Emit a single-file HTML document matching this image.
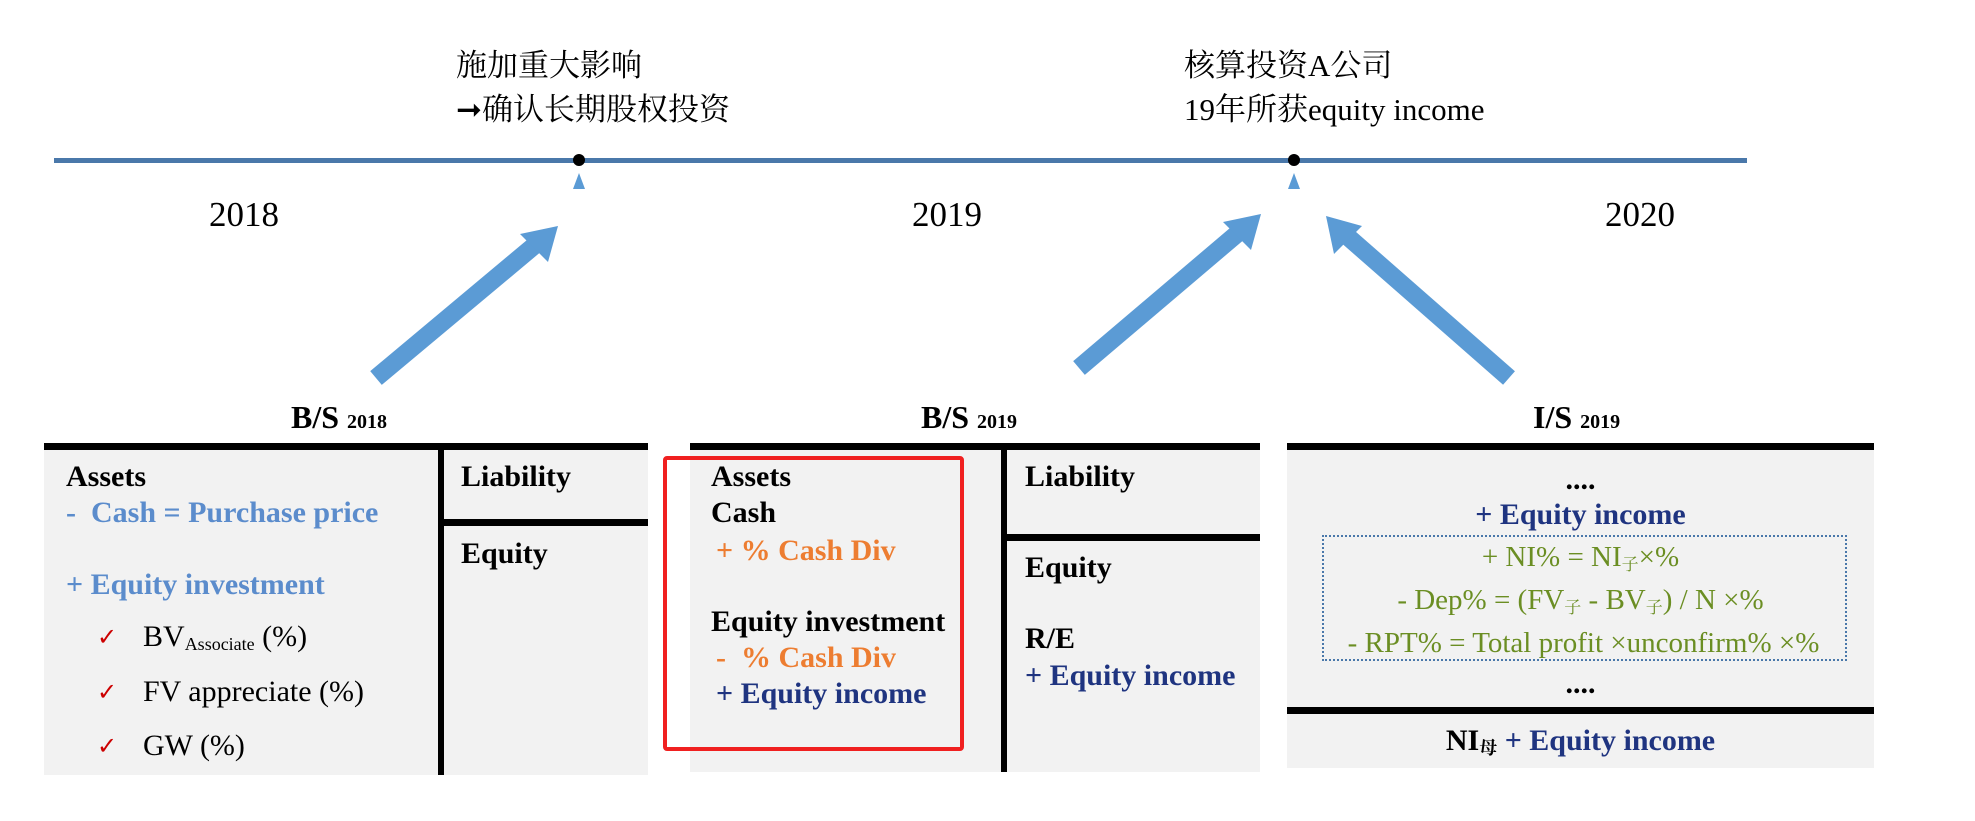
<!DOCTYPE html>
<html><head><meta charset="utf-8"><style>
body{margin:0;width:1975px;height:821px;background:#fff;position:relative;overflow:hidden;font-family:"Liberation Serif","Noto Serif CJK SC",serif}
.a{position:absolute;white-space:nowrap;line-height:34px}
.b{font-weight:bold}
.bg{position:absolute;background:#f2f2f2}
.k{position:absolute;background:#000}
.lb{color:#5b8ccc}.nv{color:#1f3480}.or{color:#ed7d31}.gr{color:#6b8e23}
.zh{font-family:"Liberation Serif","Noto Serif CJK SC",serif;font-size:31px}
sub{font-size:60%;vertical-align:-4px}
.ck{font-family:"DejaVu Sans",sans-serif;font-size:24px}
</style></head><body>
<div style="position:absolute;left:54px;top:158px;width:1693px;height:5px;background:#4a78aa"></div>
<div style="position:absolute;left:573px;top:154px;width:12px;height:12px;border-radius:50%;background:#000"></div>
<div style="position:absolute;left:1288px;top:154px;width:12px;height:12px;border-radius:50%;background:#000"></div>
<svg style="position:absolute;left:0;top:0" width="1975" height="821">
<polygon points="579,173 573,189 585,189" fill="#5b9bd5"/>
<polygon points="1294,173 1288,189 1300,189" fill="#5b9bd5"/>
<g stroke="#5b9bd5" stroke-width="18" fill="#5b9bd5">
<line x1="376" y1="378" x2="535" y2="245"/>
<line x1="1079" y1="368" x2="1238" y2="233"/>
<line x1="1509" y1="378" x2="1347" y2="236"/>
</g>
<polygon points="558,226 520,234 548,262" fill="#5b9bd5"/>
<polygon points="1261,214 1223,222 1251,250" fill="#5b9bd5"/>
<polygon points="1326,216 1334,254 1362,226" fill="#5b9bd5"/>
</svg>
<div class="a zh" style="left:456px;top:49px">施加重大影响</div>
<div class="a zh" style="left:456px;top:93px">➞确认长期股权投资</div>
<div class="a zh" style="left:1184px;top:49px">核算投资A公司</div>
<div class="a zh" style="left:1184px;top:93px">19年所获equity income</div>
<div class="a" style="left:209px;top:198px;font-size:35px">2018</div>
<div class="a" style="left:912px;top:198px;font-size:35px">2019</div>
<div class="a" style="left:1605px;top:198px;font-size:35px">2020</div>
<div class="a b" style="left:291px;top:400px;font-size:32px">B/S <span style="font-size:20px">2018</span></div>
<div class="a b" style="left:921px;top:400px;font-size:32px">B/S <span style="font-size:20px">2019</span></div>
<div class="a b" style="left:1533px;top:400px;font-size:32px">I/S <span style="font-size:20px">2019</span></div>

<div class="bg" style="left:44px;top:446px;width:604px;height:329px"></div>
<div class="k" style="left:44px;top:443px;width:604px;height:7px"></div>
<div class="k" style="left:438px;top:446px;width:6px;height:329px"></div>
<div class="k" style="left:441px;top:519px;width:207px;height:7px"></div>
<div class="bg" style="left:690px;top:446px;width:570px;height:326px"></div>
<div class="k" style="left:690px;top:443px;width:570px;height:7px"></div>
<div class="k" style="left:1001px;top:446px;width:6px;height:326px"></div>
<div class="k" style="left:1004px;top:534px;width:256px;height:7px"></div>
<div class="bg" style="left:1287px;top:446px;width:587px;height:322px"></div>
<div class="k" style="left:1287px;top:443px;width:587px;height:7px"></div>
<div class="k" style="left:1287px;top:707px;width:587px;height:7px"></div>
<div style="position:absolute;left:663px;top:456px;width:293px;height:287px;border:4px solid #f02020;border-radius:4px"></div>

<div style="font-size:30px">
<div class="a b" style="left:66px;top:460px">Assets</div>
<div class="a b lb" style="left:66px;top:496px">-&nbsp; Cash = Purchase price</div>
<div class="a b lb" style="left:66px;top:568px">+ Equity investment</div>
<div class="a ck" style="left:97px;top:620px;color:#c00">✓</div>
<div class="a" style="left:143px;top:620px">BV<sub>Associate</sub> (%)</div>
<div class="a ck" style="left:97px;top:675px;color:#c00">✓</div>
<div class="a" style="left:143px;top:675px">FV appreciate (%)</div>
<div class="a ck" style="left:97px;top:729px;color:#c00">✓</div>
<div class="a" style="left:143px;top:729px">GW (%)</div>
<div class="a b" style="left:461px;top:460px">Liability</div>
<div class="a b" style="left:461px;top:537px">Equity</div>

<div class="a b" style="left:711px;top:460px">Assets</div>
<div class="a b" style="left:711px;top:496px">Cash</div>
<div class="a b or" style="left:716px;top:534px">+ % Cash Div</div>
<div class="a b" style="left:711px;top:605px">Equity investment</div>
<div class="a b or" style="left:716px;top:641px">-&nbsp; % Cash Div</div>
<div class="a b nv" style="left:716px;top:677px">+ Equity income</div>
<div class="a b" style="left:1025px;top:460px">Liability</div>
<div class="a b" style="left:1025px;top:551px">Equity</div>
<div class="a b" style="left:1025px;top:622px">R/E</div>
<div class="a b nv" style="left:1025px;top:659px">+ Equity income</div>

<div class="a b" style="left:1287px;width:587px;text-align:center;top:463px">....</div>
<div class="a b nv" style="left:1287px;width:587px;text-align:center;top:498px">+ Equity income</div>
<div style="position:absolute;left:1322px;top:535px;width:521px;height:122px;border:2px dotted #4a78aa"></div>
<div style="font-size:29px">
<div class="a gr" style="left:1287px;width:587px;text-align:center;top:540px">+ NI% = NI<sub style="font-size:17px">子</sub>×%</div>
<div class="a gr" style="left:1287px;width:587px;text-align:center;top:583px">- Dep% = (FV<sub style="font-size:17px">子</sub> - BV<sub style="font-size:17px">子</sub>) / N ×%</div>
<div class="a gr" style="left:1320px;width:527px;text-align:center;top:626px">- RPT% = Total profit ×unconfirm% ×%</div>
</div>
<div class="a b" style="left:1287px;width:587px;text-align:center;top:667px">....</div>
<div class="a b nv" style="left:1287px;width:587px;text-align:center;top:724px"><span style="color:#000">NI<sub style="font-size:18px">母</sub></span> + Equity income</div>
</div>
</body></html>
